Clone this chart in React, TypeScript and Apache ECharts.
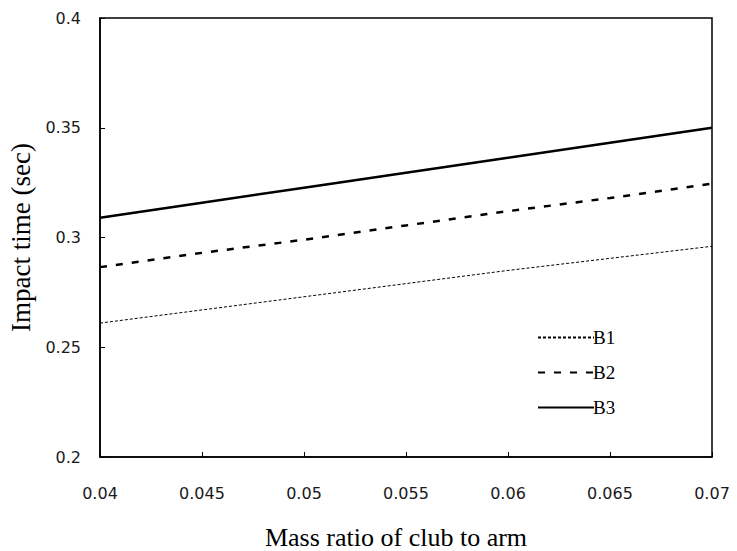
import React, { useEffect, useRef } from "react";
import * as echarts from "echarts";

const xValues = [0.04, 0.045, 0.05, 0.055, 0.06, 0.065, 0.07];
const b1 = [0.261, 0.267, 0.273, 0.279, 0.285, 0.2905, 0.296];
const b2 = [0.2865, 0.293, 0.299, 0.3055, 0.312, 0.318, 0.3245];
const b3 = [0.309, 0.3158, 0.3227, 0.3295, 0.3363, 0.3432, 0.350];
const seriesNames = ["B1", "B2", "B3"];

export default function App() {
  const ref = useRef<HTMLDivElement>(null);
  useEffect(() => {
    if (!ref.current) return;
    const chart = echarts.init(ref.current, null, { renderer: "svg" });
    const pair = (ys: number[]) => xValues.map((x, i) => [x, ys[i]]);
    const serif = "'Liberation Serif', 'Times New Roman', serif";
    const tickFont = { fontFamily: "'DejaVu Sans', sans-serif", fontSize: 16, color: "#1a1a1a" };
    chart.setOption({
      animation: false,
      backgroundColor: "#fff",
      grid: {
        left: 100, top: 18, right: 25, bottom: 94,
        outerBoundsMode: "none",
        show: true, borderColor: "#000", borderWidth: 1.5, backgroundColor: "transparent",
      },
      legend: {
        orient: "vertical",
        left: 532, top: 323,
        itemWidth: 56, itemHeight: 14, itemGap: 16,
        data: seriesNames,
        itemStyle: { opacity: 0 },
        textStyle: { fontFamily: serif, fontSize: 19, color: "#000", padding: [0, 0, 0, -6] },
      },
      xAxis: {
        type: "value", min: 0.04, max: 0.07, interval: 0.005,
        name: "Mass ratio of club to arm", nameLocation: "middle", nameGap: 67,
        nameTextStyle: { fontFamily: serif, fontSize: 26, color: "#000", padding: [0, 20, 0, 0] },
        axisLine: { lineStyle: { color: "#000", width: 1.5 } },
        axisTick: { inside: true, length: 5, lineStyle: { color: "#000" } },
        axisLabel: { ...tickFont, margin: 28, formatter: (v: number) => String(+v.toFixed(3)) },
        splitLine: { show: false },
      },
      yAxis: {
        type: "value", min: 0.2, max: 0.4, interval: 0.05,
        name: "Impact time (sec)", nameLocation: "middle", nameGap: 64,
        nameTextStyle: { fontFamily: serif, fontSize: 27, color: "#000" },
        axisLine: { lineStyle: { color: "#000", width: 1.5 } },
        axisTick: { inside: true, length: 5, lineStyle: { color: "#000" } },
        axisLabel: { ...tickFont, margin: 19, formatter: (v: number) => String(+v.toFixed(2)) },
        splitLine: { show: false },
      },
      series: [
        { name: "B1", type: "line", data: pair(b1), symbol: "none", color: "#000",
          lineStyle: { color: "#000", width: 1, type: [3, 2] } },
        { name: "B2", type: "line", data: pair(b2), symbol: "none", color: "#000",
          lineStyle: { color: "#000", width: 2.5, type: [7, 9] } },
        { name: "B3", type: "line", data: pair(b3), symbol: "none", color: "#000",
          lineStyle: { color: "#000", width: 2.5, type: "solid" } },
      ],
    });
    return () => chart.dispose();
  }, []);
  return <div ref={ref} style={{ position: "fixed", left: 0, top: 0, width: 737, height: 551 }} />;
}
